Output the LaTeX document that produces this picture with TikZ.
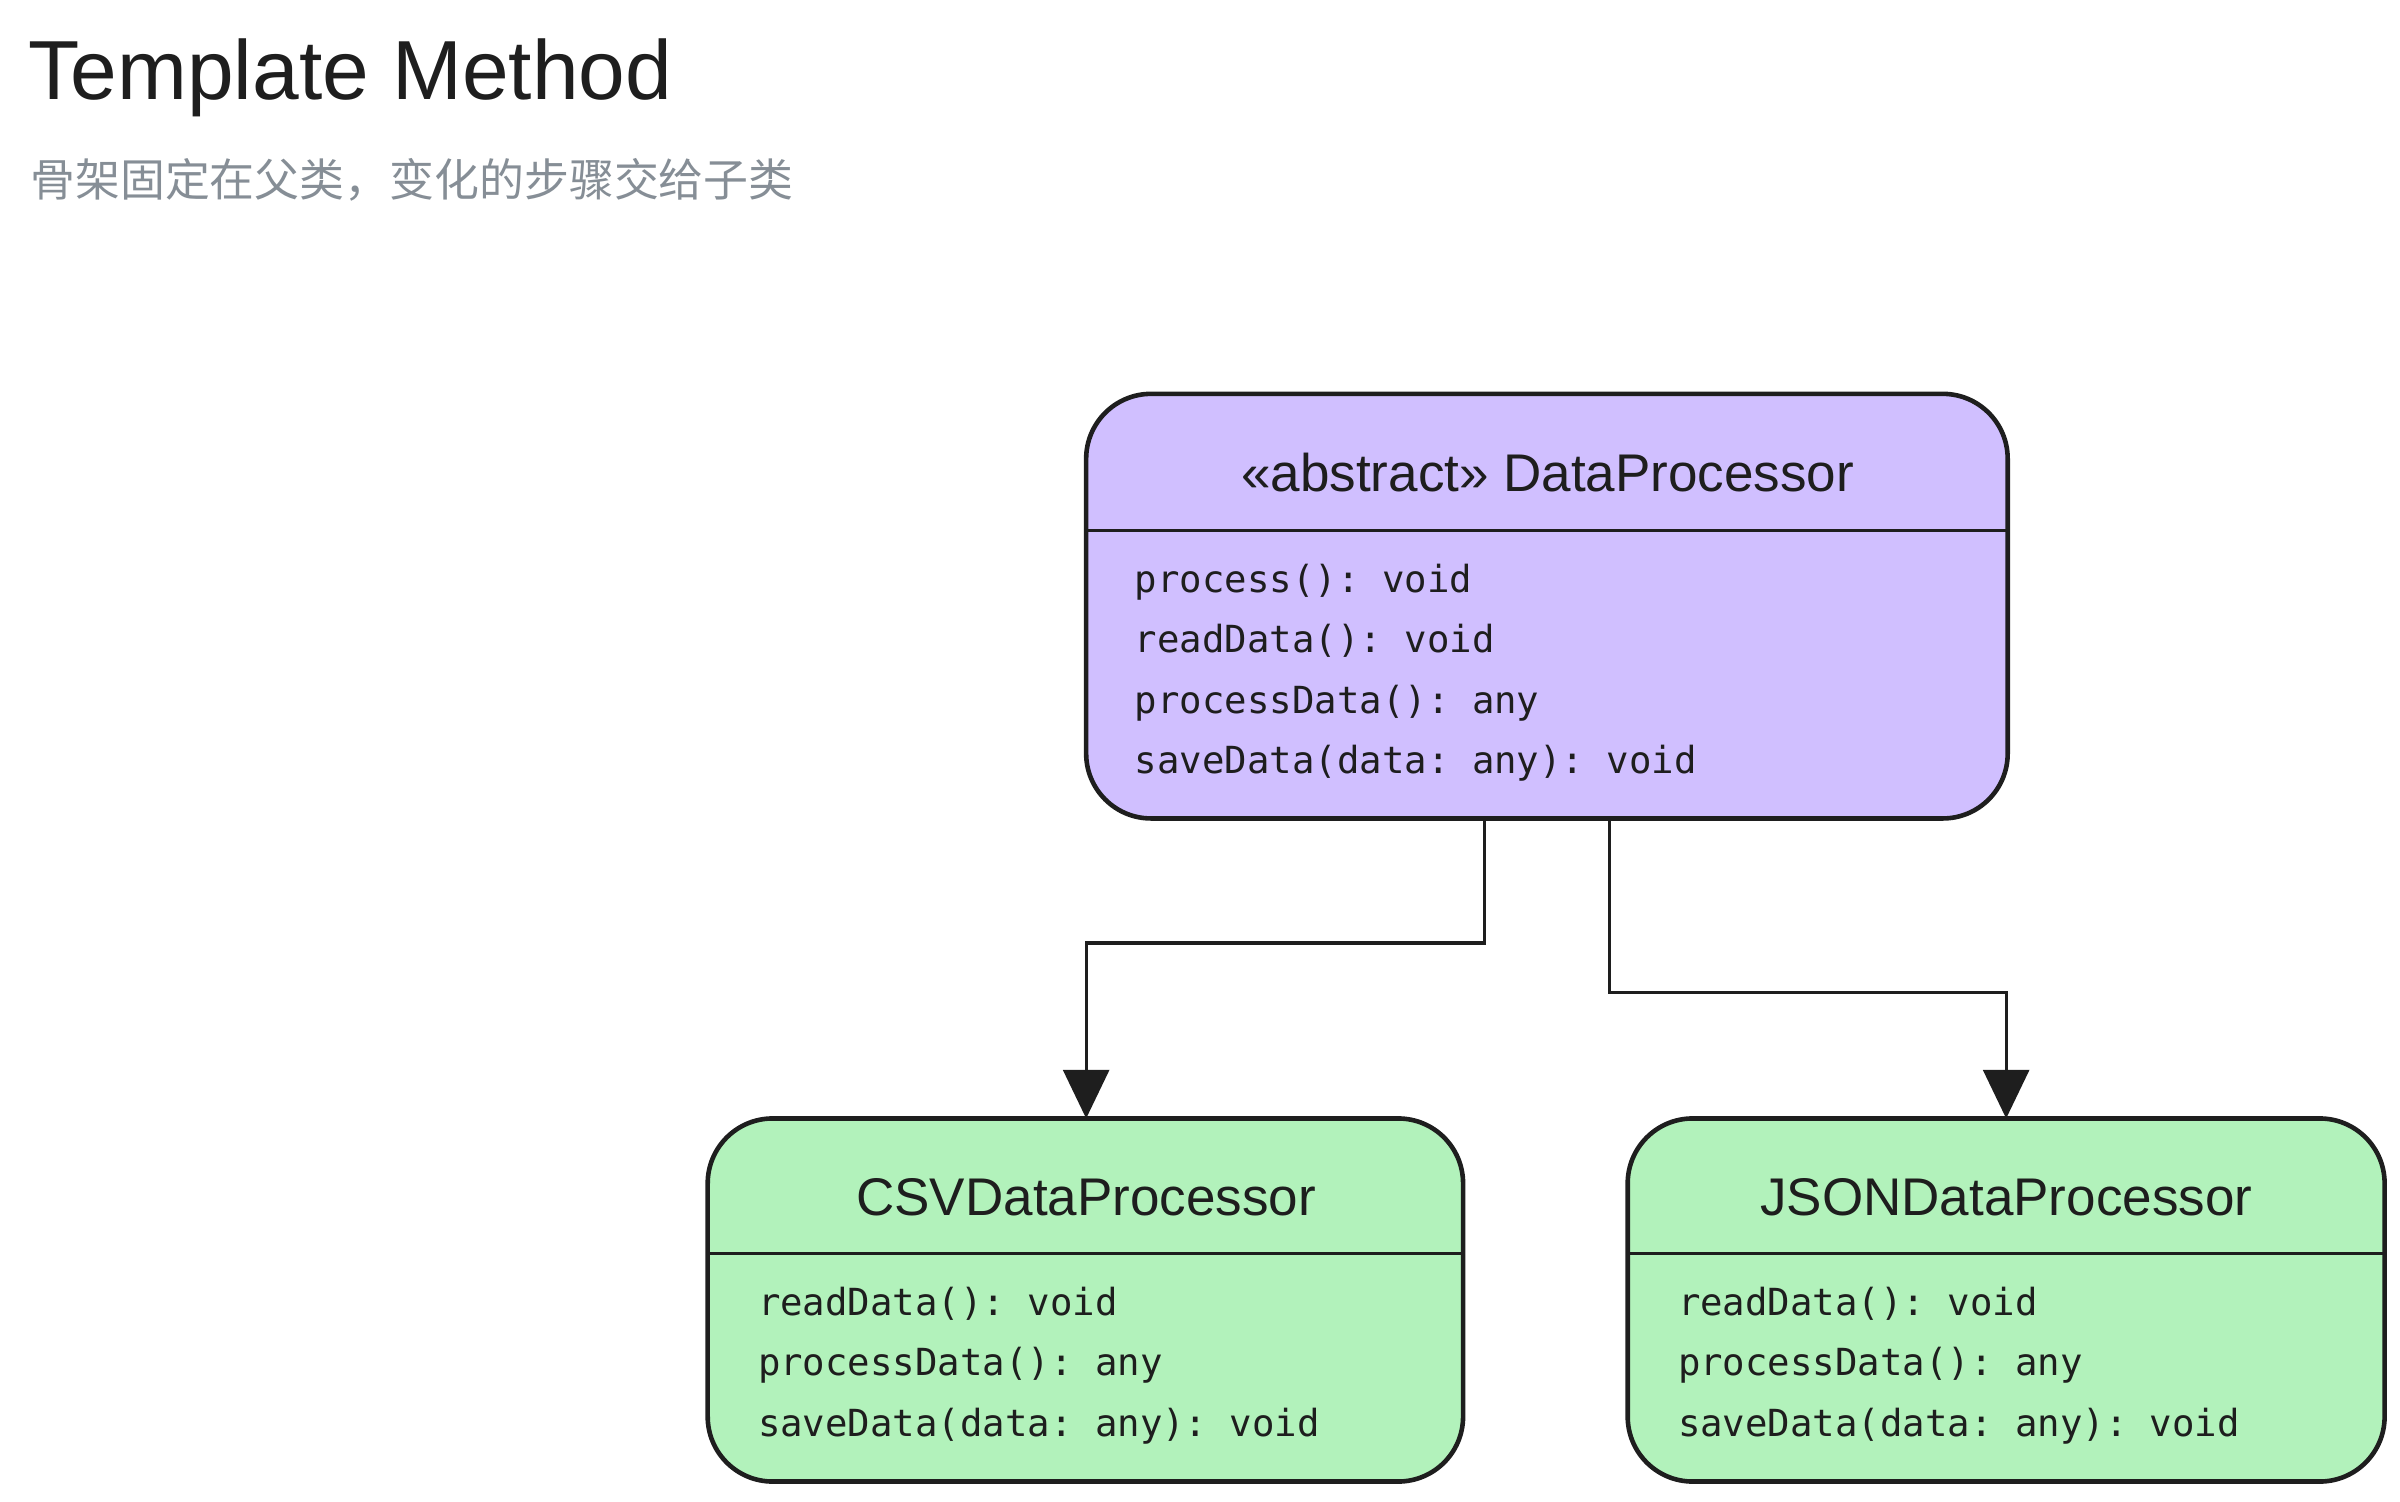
\documentclass[tikz,border=0pt]{standalone}
\usepackage{fontspec}
\setmainfont{Liberation Sans}
\setmonofont{DejaVu Sans Mono}
\newfontfamily\cjk{Noto Sans CJK SC}
\usetikzlibrary{arrows.meta}
\definecolor{absfill}{HTML}{D0BFFF}
\definecolor{subfill}{HTML}{B2F2BB}
\definecolor{inkline}{HTML}{1E1E1E}
\definecolor{subgrey}{HTML}{868E96}
\begin{document}
\begin{tikzpicture}[x=0.01cm,y=-0.01cm]
%styles
\tikzset{classBox/.style={rectangle, rounded corners=12pt, draw=inkline, line width=0.85pt, inner sep=0pt}}
\tikzset{classTitle/.style={text=inkline, font=\fontsize{9.8}{12}\selectfont}}
\tikzset{methodLine/.style={anchor=base west, inner sep=0pt, text=inkline, font=\ttfamily\fontsize{6.9}{8}\selectfont}}
\tikzset{inherit/.style={draw=inkline, line width=0.6pt, -{Triangle[length=9pt, width=8.5pt, fill=inkline]}}}
\useasboundingbox (0,0) rectangle (1560,976);
%header
\node[anchor=base west, inner sep=0pt, text=inkline, font=\fontsize{15.5}{18}\selectfont] (title) at (18,65) {Template Method};
\node[anchor=base west, inner sep=0pt, text=subgrey, font=\cjk\fontsize{8.3}{10}\selectfont] (subtitle) at (19,128) {骨架固定在父类，变化的步骤交给子类};
%boxes
\draw[classBox, fill=absfill] (706,256) rectangle (1305,532);
\draw[line width=0.6pt, draw=inkline] (706,345) -- (1305,345);
\node[classTitle] (abs) at (1006,307) {«abstract» DataProcessor};
\coordinate (absTop) at (1006,256);
\coordinate (absL) at (965,532);
\coordinate (absR) at (1046,532);
\foreach \y/\m in {385/{process(): void}, 424/{readData(): void}, 464/{processData(): any}, 503/{saveData(data: any): void}}
  \node[methodLine] at (737,\y) {\m};
\draw[classBox, fill=subfill] (460,727) rectangle (951,963);
\draw[line width=0.6pt, draw=inkline] (460,815) -- (951,815);
\node[classTitle] (csv) at (706,778) {CSVDataProcessor};
\coordinate (csvTop) at (706,727);
\draw[classBox, fill=subfill] (1058,727) rectangle (1550,963);
\draw[line width=0.6pt, draw=inkline] (1058,815) -- (1550,815);
\node[classTitle] (json) at (1304,778) {JSONDataProcessor};
\coordinate (jsonTop) at (1304,727);
\foreach \x in {492,1090}
  \foreach \y/\m in {855/{readData(): void}, 894/{processData(): any}, 934/{saveData(data: any): void}}
    \node[methodLine] at (\x,\y) {\m};
%arrows
\draw[inherit] (absL) -- (965,613) -- (706,613) -- (csvTop);
\draw[inherit] (absR) -- (1046,645) -- (1304,645) -- (jsonTop);
\end{tikzpicture}
\end{document}
